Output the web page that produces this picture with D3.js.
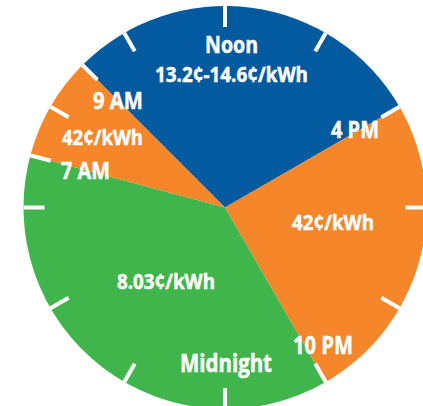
<!DOCTYPE html>
<html>
  <head>
    <meta charset="utf-8" />
    <title>Time-of-use rates clock</title>
    <script src="https://d3js.org/d3.v7.min.js"></script>
    <style>
      body { margin: 0; background: #fff; }
      text { font-family: "Open Sans", "Noto Sans", sans-serif; font-weight: 700; fill: #fff; stroke: #fff; stroke-width: 0.5; }
    </style>
  </head>
  <body>
    <svg width="423" height="406"></svg>
    <script>
      // rate periods, by the hour they start (24h clock)
      var periodStart = [9, 16, 22, 7];
      var periodRate = ["13.2¢-14.6¢/kWh", "42¢/kWh", "8.03¢/kWh", "42¢/kWh"];
      var periodKind = ["mid", "peak", "off", "peak"];

      // clock labels
      var timeHours = [12, 9, 7, 16, 22, 24];
      var timeNames = ["Noon", "9 AM", "7 AM", "4 PM", "10 PM", "Midnight"];

      var svg = d3.select("svg"),
        cx = 225,
        cy = 207.5,
        radius = 201.5;

      var color = d3.scaleOrdinal()
        .domain(["mid", "peak", "off"])
        .range(["#035a9e", "#f5862a", "#40b54c"]);

      // hour -> angle, midnight at the bottom, noon at the top
      var hourAngle = d3.scaleLinear().domain([0, 24]).range([-Math.PI, Math.PI]);

      var durations = periodStart.map(function (h, i) {
        var next = periodStart[(i + 1) % periodStart.length];
        return (next - h + 24) % 24;
      });

      var pie = d3.pie()
        .sort(null)
        .value(function (d) { return d; })
        .startAngle(hourAngle(periodStart[0]))
        .endAngle(hourAngle(periodStart[0]) + 2 * Math.PI);

      var arc = d3.arc().innerRadius(0).outerRadius(radius);

      var g = svg.append("g").attr("transform", "translate(" + cx + "," + cy + ")");

      g.selectAll(".slice")
        .data(pie(durations))
        .enter()
        .append("path")
        .attr("class", "slice")
        .attr("d", arc)
        .attr("fill", function (d, i) { return color(periodKind[i]); });

      // tick marks: every two hours plus every period boundary
      var tickHours = Array.from(new Set(d3.range(0, 24, 2).concat(periodStart)));
      var tickLen = 21;

      g.selectAll(".tick")
        .data(tickHours)
        .enter()
        .append("line")
        .attr("class", "tick")
        .attr("x1", function (h) { return Math.sin(hourAngle(h)) * radius; })
        .attr("y1", function (h) { return -Math.cos(hourAngle(h)) * radius; })
        .attr("x2", function (h) { return Math.sin(hourAngle(h)) * (radius - tickLen); })
        .attr("y2", function (h) { return -Math.cos(hourAngle(h)) * (radius - tickLen); })
        .attr("stroke", "#fff")
        .attr("stroke-width", 4);

      // where the labels sit (center x, baseline y, size, width)
      var timeLayout = {
        12: [231.5, 52.5, 23, 53],
        9: [118, 109.3, 24, 50],
        7: [85.5, 179, 24, 49],
        16: [355, 138.3, 24, 48],
        22: [323, 353.7, 25, 60],
        24: [226, 371.7, 25.5, 92]
      };
      var rateLayout = [
        [231.5, 82.3, 20.5, 153],
        [333, 230.3, 21, 82],
        [166, 289, 21.5, 98],
        [102.5, 145, 21, 81]
      ];

      svg.selectAll(".time")
        .data(timeNames)
        .enter()
        .append("text")
        .attr("class", "time")
        .attr("text-anchor", "middle")
        .attr("x", function (d, i) { return timeLayout[timeHours[i]][0]; })
        .attr("y", function (d, i) { return timeLayout[timeHours[i]][1]; })
        .attr("font-size", function (d, i) { return timeLayout[timeHours[i]][2]; })
        .attr("textLength", function (d, i) { return timeLayout[timeHours[i]][3]; })
        .attr("lengthAdjust", "spacingAndGlyphs")
        .text(function (d) { return d; });

      svg.selectAll(".rate")
        .data(periodRate)
        .enter()
        .append("text")
        .attr("class", "rate")
        .attr("text-anchor", "middle")
        .attr("x", function (d, i) { return rateLayout[i][0]; })
        .attr("y", function (d, i) { return rateLayout[i][1]; })
        .attr("font-size", function (d, i) { return rateLayout[i][2]; })
        .attr("textLength", function (d, i) { return rateLayout[i][3]; })
        .attr("lengthAdjust", "spacingAndGlyphs")
        .text(function (d) { return d; });
    </script>
  </body>
</html>
